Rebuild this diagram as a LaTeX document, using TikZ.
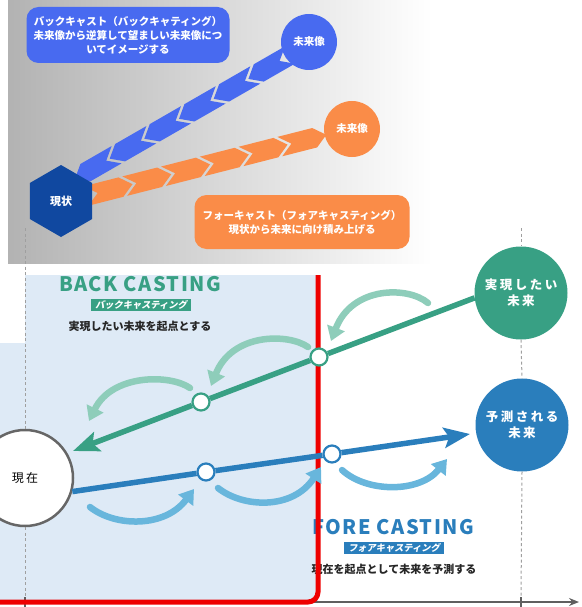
\documentclass[tikz,border=0pt]{standalone}
\usepackage{fontspec}
\setmainfont{Noto Sans CJK JP}
\newfontfamily\slantcjk{Noto Sans CJK JP}[FakeSlant=0.2]
\usetikzlibrary{arrows.meta,shapes.geometric}
\definecolor{backblue}{RGB}{72,106,240}
\definecolor{foreorange}{RGB}{250,140,72}
\definecolor{nowblue}{RGB}{16,72,160}
\definecolor{castgreen}{RGB}{56,160,132}
\definecolor{castblue}{RGB}{42,126,188}
\definecolor{paleblue}{RGB}{222,234,246}
\definecolor{arcgreen}{RGB}{142,205,186}
\definecolor{arcblue}{RGB}{104,182,220}
\definecolor{axisgray}{RGB}{95,95,95}
\definecolor{borderred}{RGB}{238,0,0}

\tikzset{
  notebox/.style={rounded corners=12pt, text=white, align=center, inner sep=0pt,
    font=\fontsize{10.5}{14}\selectfont\bfseries},
  futcircle/.style={circle, minimum size=56pt, inner sep=0pt, text=white,
    font=\fontsize{10.5}{12}\selectfont\bfseries},
  goal/.style={circle, minimum size=93pt, inner sep=0pt, text=white, align=center,
    font=\fontsize{12.5}{16}\selectfont\bfseries\addfontfeatures{LetterSpace=20}},
  dot/.style={circle, minimum size=17pt, inner sep=0pt, fill=white, line width=2.2pt},
  mainline/.style={line width=5.5pt, -{Stealth[length=26pt,width=20pt,inset=5pt]}},
  arcline/.style={line width=6.5pt, line cap=round, -{Triangle[length=14pt,width=18pt]}},
  castlabel/.style={inner sep=0pt, font=\fontsize{20}{22}\selectfont\bfseries\addfontfeatures{LetterSpace=7}},
  tagbox/.style={inner xsep=4pt, inner ysep=1.5pt, text=white,
    font=\fontsize{9.2}{10}\selectfont\slantcjk\bfseries},
  desctext/.style={inner sep=0pt, text=black!85, font=\fontsize{11}{12}\selectfont\bfseries},
  guide/.style={gray!75, line width=1pt, dash pattern=on 3pt off 2.5pt}
}

\begin{document}
\begin{tikzpicture}[x=1pt, y=-1pt]
    \useasboundingbox (0,0) rectangle (581,607);

    \shade[left color=gray!60, right color=white] (8,0) rectangle (432,263);
    \fill[paleblue] (0,343) -- (25,343) -- (25,275) -- (318,275) -- (318,603) -- (0,603) -- cycle;

    \begin{scope}[shift={(290,55)}, rotate=209.9]
        \foreach \a in {0,40,...,200}
            \fill[backblue] (\a,-10) -- ++(36,0) -- ++(12,10) -- ++(-12,10) -- ++(-36,0) -- ++(12,-10) -- cycle;
    \end{scope}
    \begin{scope}[shift={(86,196)}, rotate=14.3]
        \foreach \a in {0,40,...,200}
            \fill[foreorange] (\a,-10) -- ++(36,0) -- ++(12,10) -- ++(-12,10) -- ++(-36,0) -- ++(12,-10) -- cycle;
    \end{scope}

    \node[regular polygon, regular polygon sides=6, shape border rotate=30, minimum size=72pt,
          inner sep=0pt, fill=nowblue, text=white, font=\fontsize{11}{12}\selectfont\bfseries] (status) at (61,201) {現状};
    \node[futcircle, fill=backblue] (backimage) at (309,42) {未来像};
    \node[futcircle, fill=foreorange] (foreimage) at (352,129) {未来像};
    \node[notebox, fill=backblue, minimum width=203pt, minimum height=56pt] (backnote) at (128,35)
        {バックキャスト（バックキャティング）\\未来像から逆算して望ましい未来像につ\\いてイメージする};
    \node[notebox, fill=foreorange, minimum width=215pt, minimum height=54pt] (forenote) at (302,222)
        {フォーキャスト（フォアキャスティング）\\現状から未来に向け積み上げる};

    \draw[axisgray, line width=1.5pt, -{Stealth[length=10pt,width=8pt]}] (0,602) -- (579,602);
    \foreach \x in {25,521}
        \draw[axisgray, line width=1.2pt] (\x,597) -- (\x,607);

    \node[castlabel, text=castgreen] (backtitle) at (140,284) {BACK CASTING};
    \node[tagbox, fill=castgreen] (backtag) at (141,305) {バックキャスティング};
    \node[desctext] (backdesc) at (140,326) {実現したい未来を起点とする};
    \node[castlabel, text=castblue] (foretitle) at (393,527) {FORE CASTING};
    \node[tagbox, fill=castblue] (foretag) at (394,548) {フォアキャスティング};
    \node[desctext] (foredesc) at (394,569) {現在を起点として未来を予測する};

    \draw[borderred, line width=5pt, rounded corners=10pt] (318,275) -- (318,602) -- (-5,602);

    \node[goal, fill=castgreen] (want) at (521,293) {実現したい\\未来};
    \node[goal, fill=castblue] (predict) at (522,425) {予測される\\未来};
    \node[circle, minimum size=96pt, inner sep=0pt, fill=white, draw=gray!80!black, line width=2.5pt,
          font=\fontsize{12}{14}\selectfont\addfontfeatures{LetterSpace=20}] (present) at (25,478) {現在};

    \coordinate (guidetopL) at (25,228);
    \coordinate (guidetopR) at (521,228);
    \coordinate (guidebotL) at (25,597);
    \coordinate (guidebotR) at (521,597);
    \draw[guide] (guidetopL) -- (present.north);
    \draw[guide] (present.south) -- (guidebotL);
    \draw[guide] (guidetopR) -- (want.north);
    \draw[guide] (want.south) -- (predict.north);
    \draw[guide] (predict.south) -- (guidebotR);

    \draw[arcline, arcgreen] (428,303) .. controls (408,286) and (352,286) .. (331,341);
    \draw[arcline, arcgreen] (308,347) .. controls (288,333) and (232,333) .. (211,386);
    \draw[arcline, arcgreen] (190,388) .. controls (170,374) and (112,374) .. (89,421);
    \draw[arcline, arcblue] (90,507) .. controls (115,527) and (165,528) .. (194,489);
    \draw[arcline, arcblue] (218,488) .. controls (243,508) and (293,510) .. (321,467);
    \draw[arcline, arcblue] (342,470) .. controls (367,493) and (420,493) .. (447,459);

    \node[dot, draw=castgreen] (gmid) at (319,357) {};
    \node[dot, draw=castgreen] (glow) at (201,402) {};
    \node[dot, draw=castblue] (blow) at (206,472) {};
    \node[dot, draw=castblue] (bmid) at (332,454) {};
    \coordinate (gtip) at (73,451);
    \coordinate (btip) at (470,434);

    \draw[castgreen, line width=5.5pt] (want.186) -- (gmid);
    \draw[castgreen, line width=5.5pt] (gmid) -- (glow);
    \draw[mainline, castgreen] (glow) -- (gtip);
    \draw[castblue, line width=5.5pt] (present.-16) -- (blow);
    \draw[castblue, line width=5.5pt] (blow) -- (bmid);
    \draw[mainline, castblue] (bmid) -- (btip);
\end{tikzpicture}
\end{document}
